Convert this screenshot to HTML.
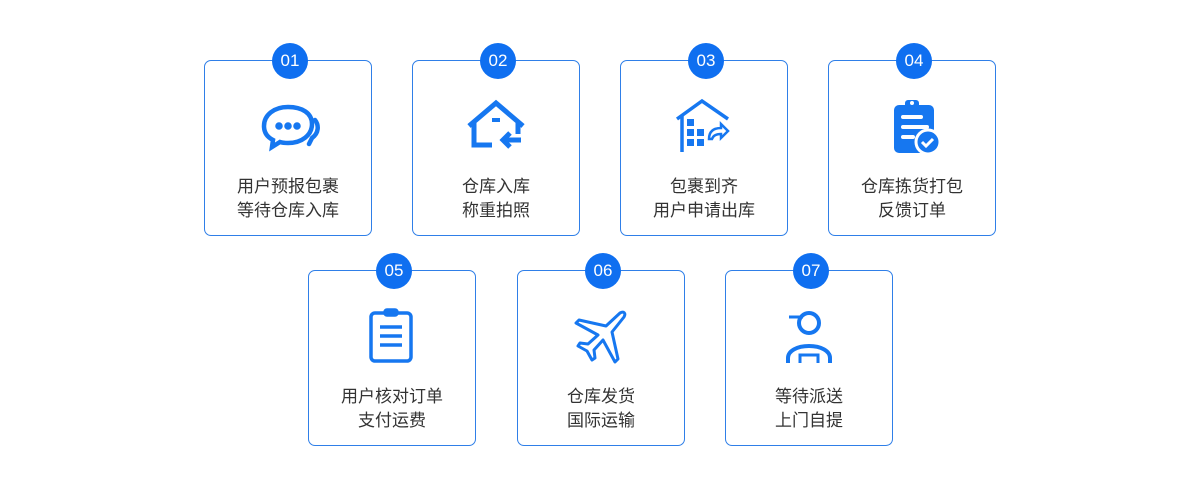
<!DOCTYPE html>
<html><head><meta charset="utf-8"><style>
body{margin:0;width:1200px;height:500px;background:#fff;position:relative;font-family:"Liberation Sans","Noto Sans CJK SC",sans-serif;overflow:hidden}
.c{position:absolute;width:166px;height:174px;border:1px solid #2f7fe8;border-radius:7px;box-sizing:content-box}
.b{position:absolute;left:67px;top:-18px;width:36px;height:36px;border-radius:50%;background:#0f6ff0;color:#fff;font-size:17px;line-height:36px;text-align:center}
.i{position:absolute;left:50px;top:36px;width:66px;height:60px}
.t{position:absolute;left:0;right:0;top:114px;text-align:center;font-size:17px;line-height:24px;color:#333}
svg{width:66px;height:60px}
</style></head><body>
<div class="c" style="left:204px;top:60px"><div class="b">01</div><div class="i"><svg viewBox="0 0 66 60" fill="none" stroke="#1677f0" stroke-width="4.5" stroke-linecap="round"><path d="M33 10c-14 0-24 8-24 19 0 6 3 11 9 14l-1 7 8-5c3 1 6 1 8 1 14 0 24-8 24-19S47 10 33 10z"/><circle cx="24" cy="29" r="1.5" fill="#1677f0"/><circle cx="33" cy="29" r="1.5" fill="#1677f0"/><circle cx="42" cy="29" r="1.5" fill="#1677f0"/><path d="M60 23c4 5 4 13-3 18l-3 6"/></svg></div><div class="t">用户预报包裹<br>等待仓库入库</div></div>
<div class="c" style="left:412px;top:60px"><div class="b">02</div><div class="i"><svg viewBox="0 0 66 60" fill="none" stroke="#1677f0" stroke-width="5"><path d="M6 29L33 6l27 23"/><path d="M11 26v22h18M55 26v11"/><path d="M29 23h8" stroke-width="4"/><path d="M58 43H40M47 36l-7 7 7 7"/></svg></div><div class="t">仓库入库<br>称重拍照</div></div>
<div class="c" style="left:620px;top:60px"><div class="b">03</div><div class="i"><svg viewBox="0 0 66 60" fill="#1677f0" stroke="#1677f0"><path d="M6 22L31 4l26 18" fill="none" stroke-width="3.5"/><path d="M11 19v36" fill="none" stroke-width="3.5"/><rect x="16" y="22" width="7" height="7" stroke="none"/><rect x="16" y="32" width="7" height="7" stroke="none"/><rect x="26" y="32" width="7" height="7" stroke="none"/><rect x="16" y="42" width="7" height="7" stroke="none"/><rect x="26" y="42" width="7" height="7" stroke="none"/><path d="M38 42c0-8 5-11 12-11v-4l7 7-7 7v-4c-5 0-8 2-9 5z" fill="none" stroke-width="2.5"/></svg></div><div class="t">包裹到齐<br>用户申请出库</div></div>
<div class="c" style="left:828px;top:60px"><div class="b">04</div><div class="i"><svg viewBox="0 0 66 60"><rect x="15" y="8" width="40" height="48" rx="5" fill="#1677f0"/><rect x="26" y="3" width="14" height="8" rx="3" fill="#1677f0"/><circle cx="33" cy="6" r="2" fill="#fff"/><rect x="22" y="18" width="22" height="4" rx="2" fill="#fff"/><rect x="22" y="28" width="28" height="4" rx="2" fill="#fff"/><rect x="22" y="38" width="14" height="4" rx="2" fill="#fff"/><circle cx="49" cy="45" r="12" fill="#1677f0" stroke="#fff" stroke-width="3"/><path d="M43 45l4 4 7-7" fill="none" stroke="#fff" stroke-width="3"/></svg></div><div class="t">仓库拣货打包<br>反馈订单</div></div>
<div class="c" style="left:308px;top:270px"><div class="b">05</div><div class="i"><svg viewBox="0 0 66 60" fill="none" stroke="#1677f0" stroke-width="3.5"><rect x="12" y="6" width="40" height="48" rx="4"/><rect x="26" y="3" width="12" height="5" rx="2" fill="#1677f0"/><path d="M21 20h22M21 29h22M21 38h22"/></svg></div><div class="t">用户核对订单<br>支付运费</div></div>
<div class="c" style="left:517px;top:270px"><div class="b">06</div><div class="i"><svg viewBox="0 0 66 60" fill="none" stroke="#1677f0" stroke-width="3" stroke-linejoin="round"><path d="M52 6c4-2 6 0 4 4L44 25l6 27-3 3-12-22-9 10 1 8-3 2-5-9-9-5 2-3 8 1 10-9-22-12 3-3 27 6z"/></svg></div><div class="t">仓库发货<br>国际运输</div></div>
<div class="c" style="left:725px;top:270px"><div class="b">07</div><div class="i"><svg viewBox="0 0 66 60" fill="none" stroke="#1677f0" stroke-width="4"><circle cx="33" cy="16" r="10"/><path d="M13 10h14" stroke-width="3"/><path d="M12 56v-5c0-7 9-12 21-12s21 5 21 12v5"/><path d="M24 56v-8h18v8" stroke-width="3"/></svg></div><div class="t">等待派送<br>上门自提</div></div>
</body></html>
